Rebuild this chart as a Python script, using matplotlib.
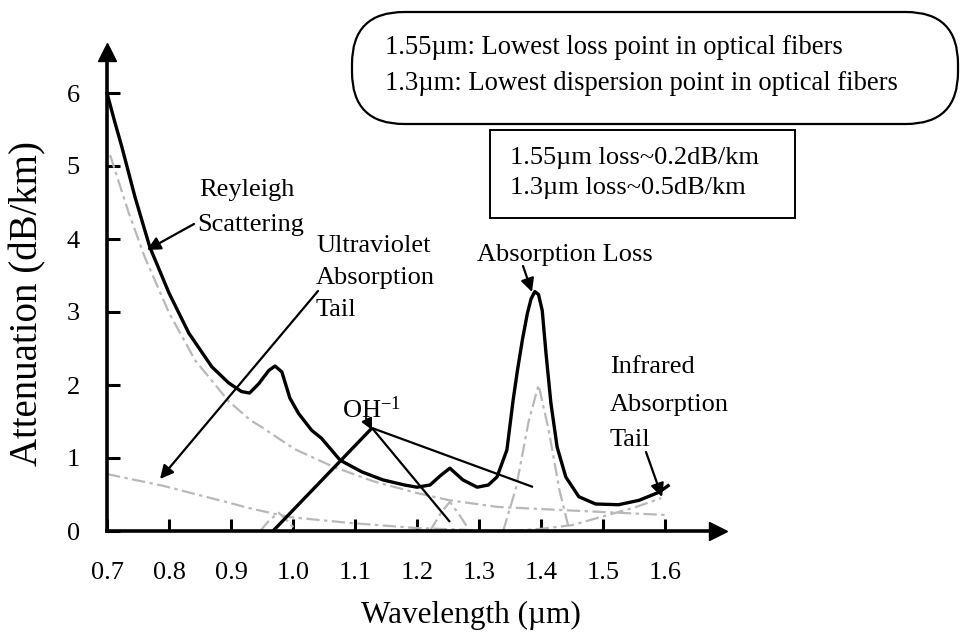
"""
Optical fiber attenuation vs wavelength (textbook sketch).
Output: out.png
"""

import matplotlib
matplotlib.use("Agg")
import matplotlib.pyplot as plt
from matplotlib.patches import FancyBboxPatch, Rectangle
from matplotlib.transforms import IdentityTransform

# ---- data (wavelength in um, attenuation in dB/km) ----
total_wl = [0.700, 0.712, 0.724, 0.745, 0.769, 0.800, 0.832, 0.869, 0.896,
            0.917, 0.930, 0.945, 0.961, 0.971, 0.982, 0.995, 1.009, 1.030,
            1.046, 1.076, 1.111, 1.145, 1.180, 1.200, 1.221, 1.238, 1.253,
            1.274, 1.297, 1.315, 1.329, 1.345, 1.355, 1.362, 1.370, 1.378,
            1.384, 1.390, 1.396, 1.402, 1.408, 1.416, 1.426, 1.440, 1.461,
            1.488, 1.525, 1.558, 1.590, 1.605]
total_att = [6.00, 5.62, 5.26, 4.58, 3.89, 3.26, 2.71, 2.25, 2.03,
             1.91, 1.89, 2.02, 2.20, 2.26, 2.18, 1.82, 1.61, 1.38,
             1.27, 0.97, 0.81, 0.70, 0.63, 0.60, 0.63, 0.76, 0.86,
             0.70, 0.60, 0.63, 0.74, 1.11, 1.79, 2.20, 2.62, 2.98,
             3.18, 3.28, 3.24, 3.02, 2.44, 1.75, 1.15, 0.74, 0.47,
             0.37, 0.36, 0.42, 0.53, 0.62]

rayleigh_wl = [0.705, 0.735, 0.761, 0.800, 0.842, 0.896, 0.931, 0.950,
               1.003, 1.065, 1.130, 1.200, 1.253, 1.330, 1.450, 1.600]
rayleigh_att = [5.15, 4.36, 3.75, 2.99, 2.34, 1.78, 1.52, 1.42,
                1.12, 0.88, 0.68, 0.52, 0.42, 0.33, 0.28, 0.22]

uv_wl = [0.700, 0.790, 0.900, 0.931, 0.995, 1.092, 1.200, 1.300]
uv_att = [0.78, 0.62, 0.38, 0.31, 0.19, 0.11, 0.04, 0.01]

ir_wl = [1.350, 1.400, 1.450, 1.500, 1.550, 1.594]
ir_att = [0.00, 0.03, 0.08, 0.20, 0.32, 0.45]

peak1_wl = [0.947, 0.962, 0.977, 0.992, 1.006]
peak1_att = [0.00, 0.15, 0.25, 0.13, 0.00]
peak2_wl = [1.221, 1.238, 1.253, 1.270, 1.285]
peak2_att = [0.00, 0.24, 0.40, 0.20, 0.00]
peak3_wl = [1.339, 1.360, 1.380, 1.396, 1.412, 1.430, 1.446]
peak3_att = [0.00, 0.60, 1.50, 2.00, 1.40, 0.55, 0.00]

x_ticks = [0.7, 0.8, 0.9, 1.0, 1.1, 1.2, 1.3, 1.4, 1.5, 1.6]
y_ticks = [0, 1, 2, 3, 4, 5, 6]

# ---- pixel layout of the reference (965 x 643) ----
W, H = 965, 643
X0_PX, X_SCALE = 107, 620.0   # px of 0.7 um, px per um
Y0_PX, Y_SCALE = 531, 73.0    # px of 0 dB/km, px per dB/km


def px(x, y):
    """pixel (from top-left) -> data coords"""
    return 0.7 + (x - X0_PX) / X_SCALE, (Y0_PX - y) / Y_SCALE


FONT = "Liberation Serif"
plt.rcParams["font.family"] = [FONT, "DejaVu Serif"]
plt.rcParams["mathtext.fontset"] = "custom"
plt.rcParams["mathtext.rm"] = FONT
plt.rcParams["mathtext.it"] = FONT + ":italic"

fig = plt.figure(figsize=(W / 100, H / 100), dpi=100)
ax = fig.add_axes([0, 0, 1, 1])
x_lo, _ = px(0, 0)
x_hi, _ = px(W, 0)
_, y_hi = px(0, 0)
_, y_lo = px(0, H)
ax.set_xlim(x_lo, x_hi)
ax.set_ylim(y_lo, y_hi)

# axes drawn as spines through the origin
for side in ("top", "right"):
    ax.spines[side].set_visible(False)
ax.spines["left"].set_position(("data", 0.7))
ax.spines["bottom"].set_position(("data", 0))
ax.spines["left"].set_bounds(0, 6.5)
ax.spines["bottom"].set_bounds(0.7, 1.67)
for side in ("left", "bottom"):
    ax.spines[side].set_linewidth(2.6)
ax.plot([0.7], [6.56], marker="^", ms=13, color="black", clip_on=False)
ax.plot([1.686], [0], marker=">", ms=13, color="black", clip_on=False)

ax.set_xticks(x_ticks)
ax.set_xticklabels([f"{v:.1f}" for v in x_ticks])
ax.set_yticks(y_ticks)
ax.tick_params(axis="both", direction="in", length=9, width=2.2,
               labelsize=19)
ax.tick_params(axis="x", pad=22)
ax.tick_params(axis="y", pad=19.5)

ax.set_xlabel("Wavelength (\u00b5m)", fontsize=22.5)
ax.xaxis.set_label_coords(471 / W, 1 - 615 / H)
ax.xaxis.label.set_va("center")
ax.set_ylabel("Attenuation (dB/km)", fontsize=28)
ax.yaxis.set_label_coords(28 / W, 1 - 304 / H)
ax.yaxis.label.set_va("center")

# ---- curves ----
gray = "#b8b8b8"
dash = (0, (6, 2, 1.5, 2))
for wl, att in [(rayleigh_wl, rayleigh_att), (uv_wl, uv_att), (ir_wl, ir_att),
                (peak1_wl, peak1_att), (peak2_wl, peak2_att),
                (peak3_wl, peak3_att)]:
    ax.plot(wl, att, color=gray, lw=1.6, ls=dash)

ax.plot(total_wl, total_att, color="black", lw=2.4, solid_joinstyle="round")

# ---- annotation lines / arrows (layout in reference pixels) ----
arrow = dict(arrowstyle="-|>", color="black", lw=1.6, mutation_scale=20,
             shrinkA=0, shrinkB=0)


def pointer(x1, y1, x2, y2, **kw):
    props = dict(arrow)
    props.update(kw)
    ax.annotate("", xy=px(x2, y2), xytext=px(x1, y1), arrowprops=props)


def segment(x1, y1, x2, y2, lw=1.6):
    (a, b), (c, d) = px(x1, y1), px(x2, y2)
    ax.plot([a, c], [b, d], color="black", lw=lw, solid_capstyle="butt")


text_kw = dict(fontsize=19, ha="left", va="center")

ax.text(*px(199, 190), "Reyleigh", **text_kw)
ax.text(*px(197, 225), "Scattering", **text_kw)
pointer(194, 224, 147, 250)

ax.text(*px(316, 246), "Ultraviolet", **text_kw)
ax.text(*px(316, 278), "Absorption", **text_kw)
ax.text(*px(316, 310), "Tail", **text_kw)
pointer(318, 291, 160, 479)

ax.text(*px(477, 255), "Absorption Loss", **text_kw)
pointer(523, 266, 532, 292)

ax.text(*px(342, 410), r"OH$^{\mathrm{-1}}$", **text_kw)
pointer(366, 418, 372, 430, mutation_scale=16)
segment(372, 428, 273, 531, lw=2.4)
segment(372, 428, 450, 522)
segment(372, 428, 533, 487)

ax.text(*px(610, 367), "Infrared", **text_kw)
ax.text(*px(610, 405), "Absorption", **text_kw)
ax.text(*px(610, 440), "Tail", **text_kw)
pointer(646, 452, 662, 497)

# ---- info boxes (pixel coordinates, y from bottom) ----
pill = FancyBboxPatch((352, H - 124), 606, 112,
                      boxstyle="round,pad=0,rounding_size=52",
                      transform=IdentityTransform(), fill=False,
                      ec="black", lw=1.6)
ax.add_patch(pill)
ax.text(*px(385, 48), "1.55\u00b5m: Lowest loss point in optical fibers",
        fontsize=19.2, ha="left", va="center")
ax.text(*px(385, 83), "1.3\u00b5m: Lowest dispersion point in optical fibers",
        fontsize=19.2, ha="left", va="center")

rect = Rectangle((490, H - 218), 305, 88, transform=IdentityTransform(),
                 fill=False, ec="black", lw=1.4)
ax.add_patch(rect)
ax.text(*px(510, 158), "1.55\u00b5m loss~0.2dB/km",
        fontsize=19, ha="left", va="center")
ax.text(*px(510, 188), "1.3\u00b5m loss~0.5dB/km",
        fontsize=19, ha="left", va="center")

fig.savefig("out.png", dpi=100)
